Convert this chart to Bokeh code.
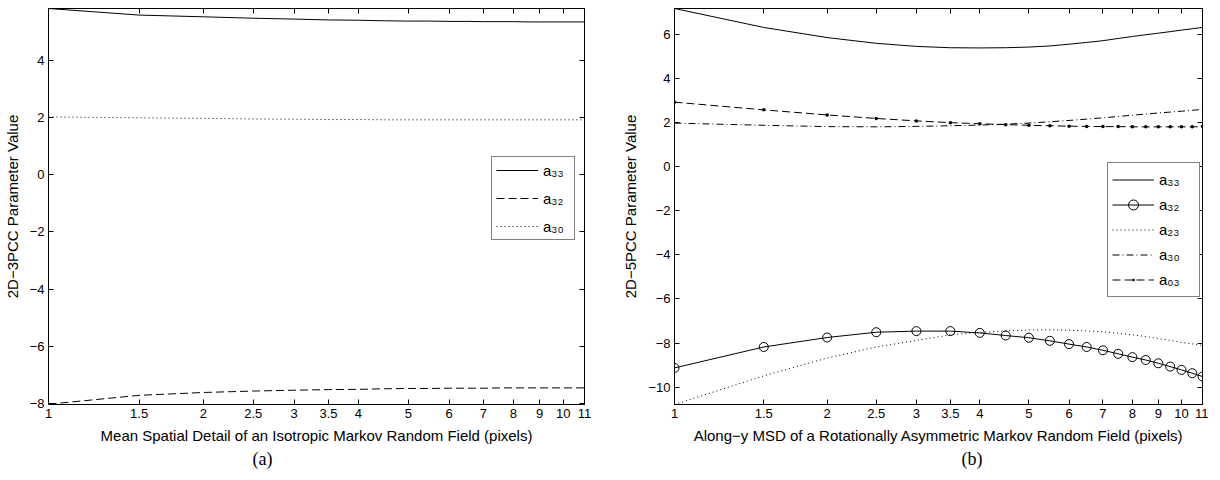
from bokeh.plotting import figure
from bokeh.layouts import row
from bokeh.models import (Range1d, FixedTicker, LogAxis, LinearAxis, Title, Legend,
                          LegendItem, CustomJSTickFormatter)
from bokeh.embed import file_html
from bokeh.resources import INLINE

# ---------------- data ----------------
x_vals = [1, 1.5, 2, 2.5, 3, 3.5, 4, 4.5, 5, 5.5, 6, 6.5, 7, 7.5, 8, 8.5, 9, 9.5, 10, 10.5, 11]
x_ticks = [1, 1.5, 2, 2.5, 3, 3.5, 4, 5, 6, 7, 8, 9, 10, 11]
x_tick_labels = ["1", "1.5", "2", "2.5", "3", "3.5", "4", "5", "6", "7", "8", "9", "10", "11"]

# panel (a): 2D-3PCC
a_y_ticks = [-8, -6, -4, -2, 0, 2, 4]
a_y_tick_labels = ["\u22128", "\u22126", "\u22124", "\u22122", "0", "2", "4"]
a_a33 = [5.81, 5.58, 5.52, 5.47, 5.44, 5.41, 5.40, 5.38, 5.37, 5.37, 5.36, 5.36, 5.35,
         5.35, 5.35, 5.34, 5.34, 5.34, 5.34, 5.34, 5.34]
a_a32 = [-8.02, -7.71, -7.61, -7.56, -7.53, -7.51, -7.50, -7.48, -7.47, -7.47, -7.46,
         -7.46, -7.46, -7.45, -7.45, -7.45, -7.45, -7.45, -7.45, -7.45, -7.45]
a_a30 = [2.02, 1.99, 1.97, 1.95, 1.94, 1.93, 1.93, 1.92, 1.92, 1.92, 1.92, 1.92, 1.92,
         1.92, 1.92, 1.92, 1.92, 1.92, 1.92, 1.92, 1.92]

# panel (b): 2D-5PCC
b_y_ticks = [-10, -8, -6, -4, -2, 0, 2, 4, 6]
b_y_tick_labels = ["\u221210", "\u22128", "\u22126", "\u22124", "\u22122", "0", "2", "4", "6"]
b_a33 = [7.18, 6.32, 5.86, 5.60, 5.46, 5.40, 5.39, 5.40, 5.43, 5.48, 5.56, 5.64, 5.72,
         5.82, 5.91, 5.99, 6.06, 6.13, 6.20, 6.26, 6.32]
b_a32 = [-9.13, -8.18, -7.75, -7.51, -7.46, -7.46, -7.54, -7.66, -7.76, -7.90, -8.05,
         -8.18, -8.33, -8.49, -8.64, -8.77, -8.92, -9.07, -9.22, -9.37, -9.52]
b_a23 = [-10.79, -9.49, -8.68, -8.18, -7.88, -7.63, -7.52, -7.45, -7.41, -7.40, -7.42,
         -7.45, -7.49, -7.56, -7.63, -7.71, -7.80, -7.88, -7.97, -8.04, -8.11]
b_a30 = [1.98, 1.88, 1.82, 1.81, 1.83, 1.86, 1.89, 1.93, 1.98, 2.04, 2.10, 2.16, 2.22,
         2.28, 2.34, 2.39, 2.44, 2.48, 2.52, 2.56, 2.60]
b_a03 = [2.93, 2.58, 2.35, 2.19, 2.08, 2.00, 1.95, 1.91, 1.88, 1.86, 1.84, 1.83, 1.82,
         1.82, 1.81, 1.81, 1.81, 1.81, 1.81, 1.81, 1.82]

FONT = "Liberation Sans"
DASH = "8 4"
DOT = "1 3"
DASHDOT = "7 3 1 3"


def make_fig(frame_w, border_l, border_r, y_lo, y_hi, y_ticks, y_labels, xlabel, ylabel):
    p = figure(x_axis_type="log", x_range=Range1d(1, 11), y_range=Range1d(y_lo, y_hi),
               frame_width=frame_w, frame_height=396,
               min_border_left=border_l, min_border_right=border_r,
               min_border_top=8, min_border_bottom=60,
               output_backend="svg", toolbar_location=None)
    p.grid.visible = False
    p.background_fill_color = "white"
    p.border_fill_color = "white"
    p.outline_line_color = "black"
    p.outline_line_width = 1

    xa = p.xaxis[0]
    xa.ticker = FixedTicker(ticks=x_ticks)
    xa.major_label_overrides = dict(zip(x_ticks, x_tick_labels))
    xa.axis_label = xlabel
    ya = p.yaxis[0]
    ya.ticker = FixedTicker(ticks=y_ticks)
    ya.major_label_overrides = dict(zip(y_ticks, y_labels))
    ya.axis_label = ylabel

    for ax in (xa, ya):
        ax.major_tick_in = 5
        ax.major_tick_out = 0
        ax.minor_tick_line_color = None
        ax.axis_line_color = "black"
        ax.major_tick_line_color = "black"
        ax.major_label_text_font = FONT
        ax.major_label_text_font_size = "13px"
        ax.major_label_text_color = "black"
        ax.major_label_standoff = 4
        ax.axis_label_text_font = FONT
        ax.axis_label_text_font_size = "15px"
        ax.axis_label_text_font_style = "normal"
        ax.axis_label_text_color = "black"
        ax.axis_label_standoff = 6

    empty = CustomJSTickFormatter(code="return ''")
    top = LogAxis(ticker=FixedTicker(ticks=x_ticks), formatter=empty,
                  major_tick_in=5, major_tick_out=0, minor_tick_line_color=None,
                  axis_line_color=None, major_label_standoff=0,
                  major_tick_line_color="black")
    right = LinearAxis(ticker=FixedTicker(ticks=y_ticks), formatter=empty,
                       major_tick_in=5, major_tick_out=0, minor_tick_line_color=None,
                       axis_line_color=None, major_label_standoff=0,
                       major_tick_line_color="black")
    p.add_layout(top, "above")
    p.add_layout(right, "right")
    return p


def style_legend(leg, loc, glyph_h, spacing, padding, label_w):
    leg.location = loc
    leg.border_line_color = "black"
    leg.border_line_width = 1
    leg.background_fill_color = "white"
    leg.background_fill_alpha = 1
    leg.label_text_font = FONT
    leg.label_text_font_size = "15px"
    leg.label_text_color = "black"
    leg.glyph_width = 42
    leg.glyph_height = glyph_h
    leg.label_height = glyph_h
    leg.label_width = label_w
    leg.label_standoff = 5
    leg.spacing = spacing
    leg.padding = padding
    leg.margin = 0


def caption(p, text, offset):
    t = Title(text=text, align="left", offset=offset, vertical_align="top",
              standoff=4, text_font="Liberation Serif", text_font_size="18px",
              text_font_style="normal", text_color="black")
    p.add_layout(t, "below")


# ---------------- panel (a) ----------------
p1 = make_fig(536, 44, 10, -8.03, 5.81, a_y_ticks, a_y_tick_labels,
              "Mean Spatial Detail of an Isotropic Markov Random Field (pixels)",
              "2D\u22123PCC Parameter Value")
r1 = p1.line(x_vals, a_a33, line_color="black", line_width=1)
r2 = p1.line(x_vals, a_a32, line_color="black", line_width=1, line_dash=DASH)
r3 = p1.line(x_vals, a_a30, line_color="black", line_width=1, line_dash=DOT)
leg1 = Legend(items=[LegendItem(label="a\u2083\u2083", renderers=[r1]),
                     LegendItem(label="a\u2083\u2082", renderers=[r2]),
                     LegendItem(label="a\u2083\u2080", renderers=[r3])])
style_legend(leg1, (443, 164), 18, 10, 4, 27)
p1.add_layout(leg1, "center")
caption(p1, "(a)", 204)

# ---------------- panel (b) ----------------
p2 = make_fig(528, 80, 6, -10.79, 7.18, b_y_ticks, b_y_tick_labels,
              "Along\u2212y MSD of a Rotationally Asymmetric Markov Random Field (pixels)",
              "2D\u22125PCC Parameter Value")
s1 = p2.line(x_vals, b_a33, line_color="black", line_width=1)
s2l = p2.line(x_vals, b_a32, line_color="black", line_width=1)
s2m = p2.scatter(x_vals, b_a32, marker="circle", size=9, line_color="black",
                 line_width=1, fill_color=None)
s3 = p2.line(x_vals, b_a23, line_color="black", line_width=1, line_dash=DOT)
s4 = p2.line(x_vals, b_a30, line_color="black", line_width=1, line_dash=DASHDOT)
s5l = p2.line(x_vals, b_a03, line_color="black", line_width=1, line_dash=DASH)
s5m = p2.scatter(x_vals, b_a03, marker="dot", size=14, line_color="black",
                 fill_color="black", line_width=1.5)
leg2 = Legend(items=[LegendItem(label="a\u2083\u2083", renderers=[s1]),
                     LegendItem(label="a\u2083\u2082", renderers=[s2l, s2m]),
                     LegendItem(label="a\u2082\u2083", renderers=[s3]),
                     LegendItem(label="a\u2083\u2080", renderers=[s4]),
                     LegendItem(label="a\u2080\u2083", renderers=[s5l, s5m])])
style_legend(leg2, (433, 107), 25, 0, 4, 36)
p2.add_layout(leg2, "center")
caption(p2, "(b)", 287)

layout = row(p1, p2)
open("out.html", "w").write(file_html(layout, INLINE))
